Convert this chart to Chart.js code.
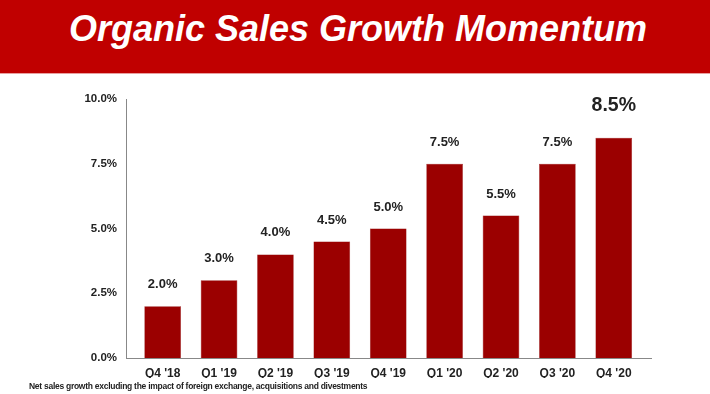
<!DOCTYPE html>
<html>
<head>
<meta charset="utf-8">
<script src="https://cdn.jsdelivr.net/npm/chart.js@4/dist/chart.umd.min.js"></script>
<style>
  html, body { margin: 0; padding: 0; background: #fff; }
  body { width: 710px; height: 394px; position: relative; overflow: hidden; font-family: "Liberation Sans", Arial, sans-serif; }
  #header { position: absolute; left: 0; top: 0; width: 710px; height: 73px; background: #c00000; border-bottom: 1px solid #e8a0a0; }
  #title { position: absolute; left: 0; top: 9px; width: 716px; text-align: center; color: #fff; font-weight: bold; font-style: italic; font-size: 36px; line-height: 40px; }
  #note { position: absolute; left: 29px; top: 381px; font-weight: bold; font-size: 8.5px; letter-spacing: -0.27px; color: #222; white-space: nowrap; }
  #wrap { position: absolute; left: 0; top: 0; width: 710px; height: 394px; }
</style>
</head>
<body>
<div id="header"></div>
<div id="title">Organic Sales Growth Momentum</div>
<div id="wrap"><canvas id="growthChart"></canvas></div>
<div id="note">Net sales growth excluding the impact of foreign exchange, acquisitions and divestments</div>
<script>
const quarters = ["Q4 '18", "Q1 '19", "Q2 '19", "Q3 '19", "Q4 '19", "Q1 '20", "Q2 '20", "Q3 '20", "Q4 '20"];
const growth = [2.0, 3.0, 4.0, 4.5, 5.0, 7.5, 5.5, 7.5, 8.5];
const yTicks = [0, 2.5, 5, 7.5, 10];

// value labels above the bars, last one bigger
const barLabels = {
    id: 'barLabels',
    afterDatasetsDraw(chart){
        const ctx = chart.ctx;
        const meta = chart.getDatasetMeta(0);
        ctx.save();
        ctx.fillStyle = '#222';
        ctx.textAlign = 'center';
        ctx.textBaseline = 'middle';
        meta.data.forEach((bar, i) => {
            const last = i == growth.length - 1;
            ctx.font = 'bold ' + (last ? 19.5 : 13) + 'px "Liberation Sans", Arial, sans-serif';
            ctx.fillText(growth[i].toFixed(1) + '%', bar.x, bar.y - (last ? 32 : 21.5));
        });
        ctx.restore();
    }
};

const ctx1 = document.getElementById('growthChart').getContext('2d');
const growthChart = new Chart(ctx1, {
    type: 'bar',
    data: {
        datasets: [{
            data: growth.map((v, i) => ({x: i, y: v})),
            backgroundColor: '#9b0000',
            borderColor: '#8a0000',
            borderWidth: 0.5,
            barPercentage: 0.65,
            categoryPercentage: 1
        }]
    },
    options: {
        responsive: true,
        maintainAspectRatio: false,
        animation: false,
        layout: { padding: { left: 0, top: 99, right: 59, bottom: 16 } },
        plugins: { legend: { display: false }, tooltip: { enabled: false } },
        scales: {
            x: {
                type: 'linear',
                offset: false,
                min: -0.65,
                max: 8.66,
                afterFit(scale){ scale.height = 20; },
                grid: { display: false, drawTicks: false, offset: false },
                border: { display: true, color: '#888', width: 1 },
                ticks: {
                    stepSize: 1,
                    includeBounds: false,
                    autoSkip: false,
                    maxRotation: 0,
                    padding: 8,
                    color: '#222',
                    font: { family: '"Liberation Sans", Arial, sans-serif', size: 12, weight: 'bold' },
                    callback: (v) => Number.isInteger(v) ? quarters[v] : ''
                }
            },
            y: {
                min: 0,
                max: 10,
                afterFit(scale){ scale.width = 126; },
                afterBuildTicks(scale){ scale.ticks = yTicks.map(v => ({value: v})); },
                grid: { display: false, drawTicks: false },
                border: { display: true, color: '#888', width: 1 },
                ticks: {
                    padding: 9,
                    color: '#222',
                    font: { family: '"Liberation Sans", Arial, sans-serif', size: 11.5, weight: 'bold' },
                    callback: (v) => v.toFixed(1) + '%'
                }
            }
        }
    },
    plugins: [barLabels]
});
</script>
</body>
</html>
